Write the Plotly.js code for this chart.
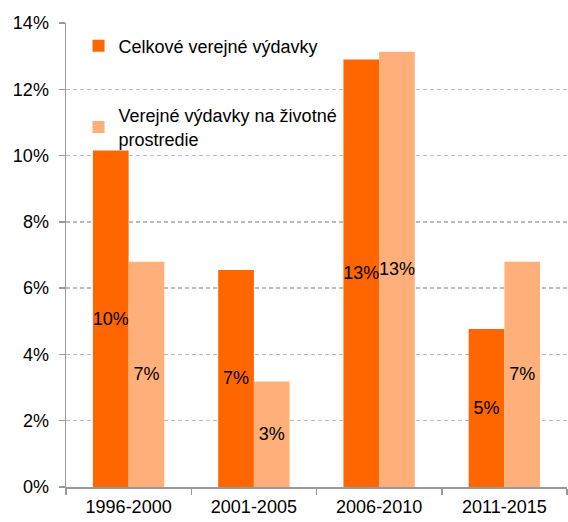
<!DOCTYPE html>
<html>
<head>
<meta charset="utf-8">
<script src="https://cdn.plot.ly/plotly-3.0.1.min.js"></script>
<style>html,body{margin:0;padding:0;background:#fff;}#chart{width:568px;height:522px;}</style>
</head>
<body>
<div id="chart"></div>
<script>
const categories = ["1996-2000", "2001-2005", "2006-2010", "2011-2015"];
const seriesNames = ["Celkové verejné výdavky", "Verejné výdavky na životné<br>prostredie"];
const celkove = [10.15, 6.55, 12.9, 4.77];
const zivotne = [6.8, 3.18, 13.13, 6.8];
const yTicks = [0, 2, 4, 6, 8, 10, 12, 14];
const yTickLabels = ["0%", "2%", "4%", "6%", "8%", "10%", "12%", "14%"];

const font = "Arial, 'Liberation Sans', sans-serif";
const common = {
  type: "bar",
  x: categories,
  texttemplate: "%{y:.0f}%",
  textposition: "inside",
  insidetextanchor: "middle",
  textangle: 0,
  constraintext: "none",
  textfont: {family: font, size: 18, color: "#000"},
  hoverinfo: "skip"
};
const data = [
  Object.assign({}, common, {name: seriesNames[0], y: celkove, marker: {color: "#FF6600"}, legendgroup: "a"}),
  Object.assign({}, common, {name: seriesNames[1], y: zivotne, marker: {color: "#FFB07A"}, legendgroup: "b"})
];
const layout = {
  width: 568, height: 522,
  margin: {l: 66, r: 1, t: 23, b: 35},
  paper_bgcolor: "#fff", plot_bgcolor: "#fff",
  font: {family: font, size: 18, color: "#000"},
  barmode: "group",
  bargap: 0.43,
  bargroupgap: 0,
  showlegend: true,
  legend: {x: 0.025, y: 0.99, xanchor: "left", yanchor: "top", bgcolor: "rgba(0,0,0,0)",
    font: {family: font, size: 18, color: "#000"}, traceorder: "grouped", tracegroupgap: 43, itemwidth: 30},
  xaxis: {
    type: "category", showgrid: false, showline: true, linecolor: "#999", linewidth: 1.5,
    ticks: "outside", tickson: "boundaries", ticklen: 6, tickcolor: "#999", tickwidth: 1.5,
    ticklabelstandoff: 3,
    tickfont: {family: font, size: 18, color: "#000"}
  },
  yaxis: {
    range: [0, 14], tickvals: yTicks, ticktext: yTickLabels, showline: true, linecolor: "#999", linewidth: 1.5,
    ticks: "outside", ticklen: 6, tickcolor: "#999", tickwidth: 1.5, ticklabelstandoff: 6,
    showgrid: true, gridcolor: "#bbb", griddash: "4px,3px", gridwidth: 1.5, zeroline: false,
    tickfont: {family: font, size: 18, color: "#000"}
  }
};
Plotly.newPlot("chart", data, layout, {displayModeBar: false, staticPlot: true});
</script>
</body>
</html>
